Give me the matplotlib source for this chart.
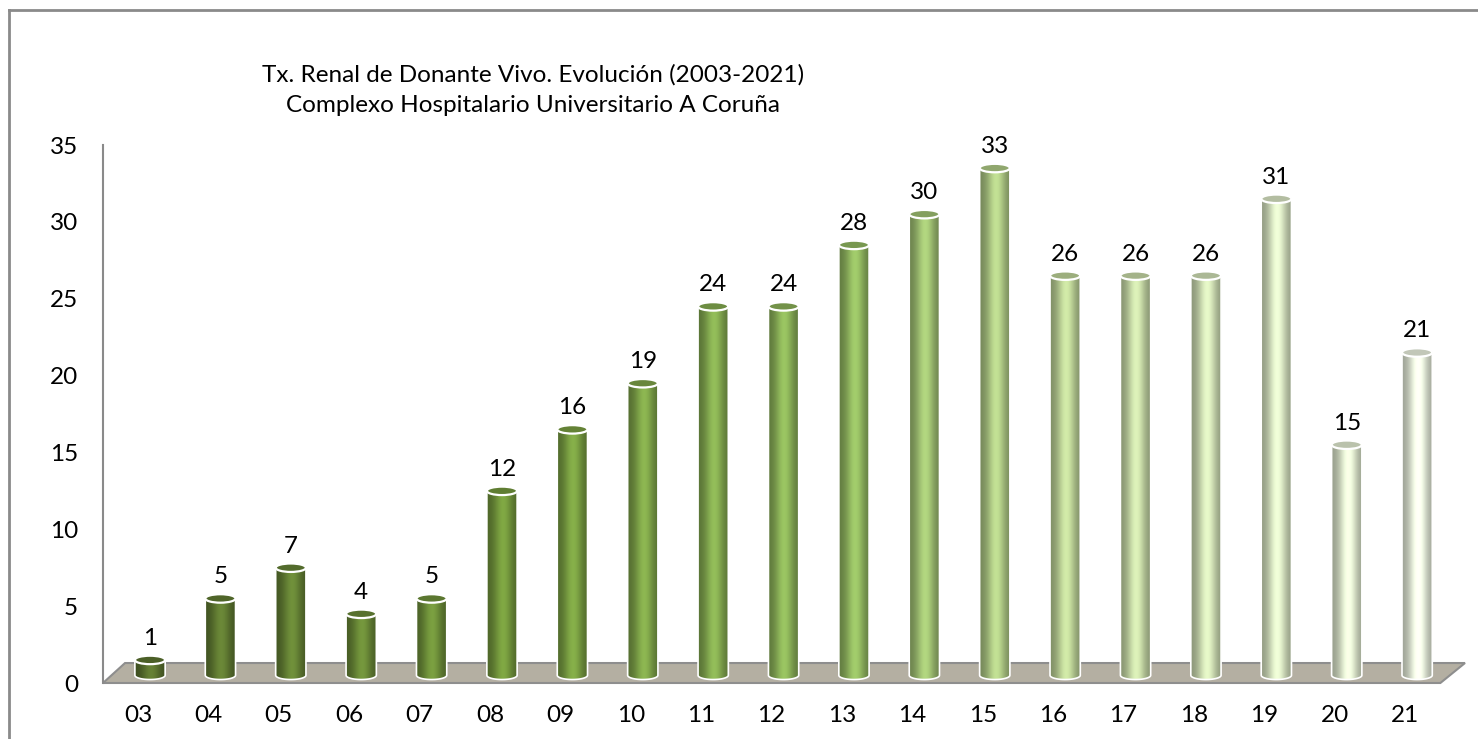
import numpy as np
import matplotlib.pyplot as plt
from matplotlib.patches import Ellipse, Polygon, PathPatch
from matplotlib.path import Path
from matplotlib.colors import LinearSegmentedColormap
from matplotlib.lines import Line2D

# Data
years = ['03', '04', '05', '06', '07', '08', '09', '10', '11', '12',
         '13', '14', '15', '16', '17', '18', '19', '20', '21']
transplants = [1, 5, 7, 4, 5, 12, 16, 19, 24, 24, 28, 30, 33, 26, 26, 26, 31, 15, 21]

title_1 = 'Tx. Renal de Donante Vivo. Evolución (2003-2021)'
title_2 = 'Complexo Hospitalario Universitario A Coruña'

plt.rcParams['font.family'] = ['Lato', 'DejaVu Sans']
FS = 17.5

fig = plt.figure(figsize=(14.78, 7.39), dpi=100)
ax = fig.add_axes([103 / 1478, 56 / 739, 1362 / 1478, 538 / 739])

# colour ramp from dark olive to pale green
ramp = LinearSegmentedColormap.from_list('greens', [
    (0.0, (92 / 255, 116 / 255, 48 / 255)),
    (0.3, (118 / 255, 155 / 255, 62 / 255)),
    (0.55, (145 / 255, 184 / 255, 95 / 255)),
    (0.72, (190 / 255, 212 / 255, 152 / 255)),
    (1.0, (236 / 255, 243 / 255, 224 / 255)),
])

# floor of the 3D chart
floor = Polygon([(-0.668, 0), (18.33, 0), (18.68, 1.3), (-0.355, 1.3)],
                closed=True, facecolor='#b4afa2', edgecolor='#8e8e8e',
                lw=1.5, zorder=1, clip_on=False)
ax.add_patch(floor)

bar_w = 0.43
ell_h = 0.55
base = 0.5
shade = np.linspace(-1, 1, 60)
# cylinder shading: dark edges, lighter centre
light = 0.66 + 0.45 * np.exp(-((shade - 0.05) / 0.6) ** 2)

for i, v in enumerate(transplants):
    col = np.array(ramp(i / (len(years) - 1))[:3])
    top = base + v
    x0, x1 = i - bar_w / 2, i + bar_w / 2
    t = np.linspace(np.pi, 2 * np.pi, 30)
    bottom_arc = np.column_stack([i + bar_w / 2 * np.cos(t),
                                  base + ell_h / 2 * np.sin(t)])
    verts = np.vstack([[[x0, top]], bottom_arc, [[x1, top]], [[x0, top]]])
    body = PathPatch(Path(verts), facecolor='none', edgecolor='white', lw=1.2, zorder=3)
    ax.add_patch(body)
    img = np.clip(col[None, :] * light[:, None], 0, 1)[None, :, :]
    im = ax.imshow(img, extent=[x0, x1, base - ell_h / 2, top], aspect='auto',
                   zorder=2, interpolation='bilinear')
    im.set_clip_path(body)
    top_col = np.clip(col * 0.82, 0, 1)
    ax.add_patch(Ellipse((i, top), bar_w, ell_h, facecolor=top_col,
                         edgecolor='white', lw=1.6, zorder=4))
    ax.annotate(str(v), (i, top), xytext=(0, 8), textcoords='offset points',
                ha='center', va='bottom', fontsize=FS, color='black')

ax.set_xlim(-0.668, 18.68)
ax.set_ylim(0, 35)
ax.set_yticks(range(0, 36, 5))
ax.set_xticks(np.arange(len(years)) - 0.17)
ax.set_xticklabels(years)
ax.tick_params(axis='y', length=0, pad=18, labelsize=FS)
ax.tick_params(axis='x', length=0, pad=16, labelsize=FS)
for s in ['top', 'right', 'bottom']:
    ax.spines[s].set_visible(False)
ax.spines['left'].set_color('#8a8a8a')
ax.spines['left'].set_linewidth(1.5)
ax.patch.set_visible(False)

fig.text(533 / 1478, 1 - 75 / 739, title_1, ha='center', va='center', fontsize=FS)
fig.text(533 / 1478, 1 - 106 / 739, title_2, ha='center', va='center', fontsize=FS)

# outer frame
fig.add_artist(Line2D([9 / 1478, 1], [1 - 10 / 739, 1 - 10 / 739], color='#8a8a8a', lw=2))
fig.add_artist(Line2D([9 / 1478, 9 / 1478], [0, 1 - 10 / 739], color='#8a8a8a', lw=2))

fig.savefig('out.png', dpi=100)
